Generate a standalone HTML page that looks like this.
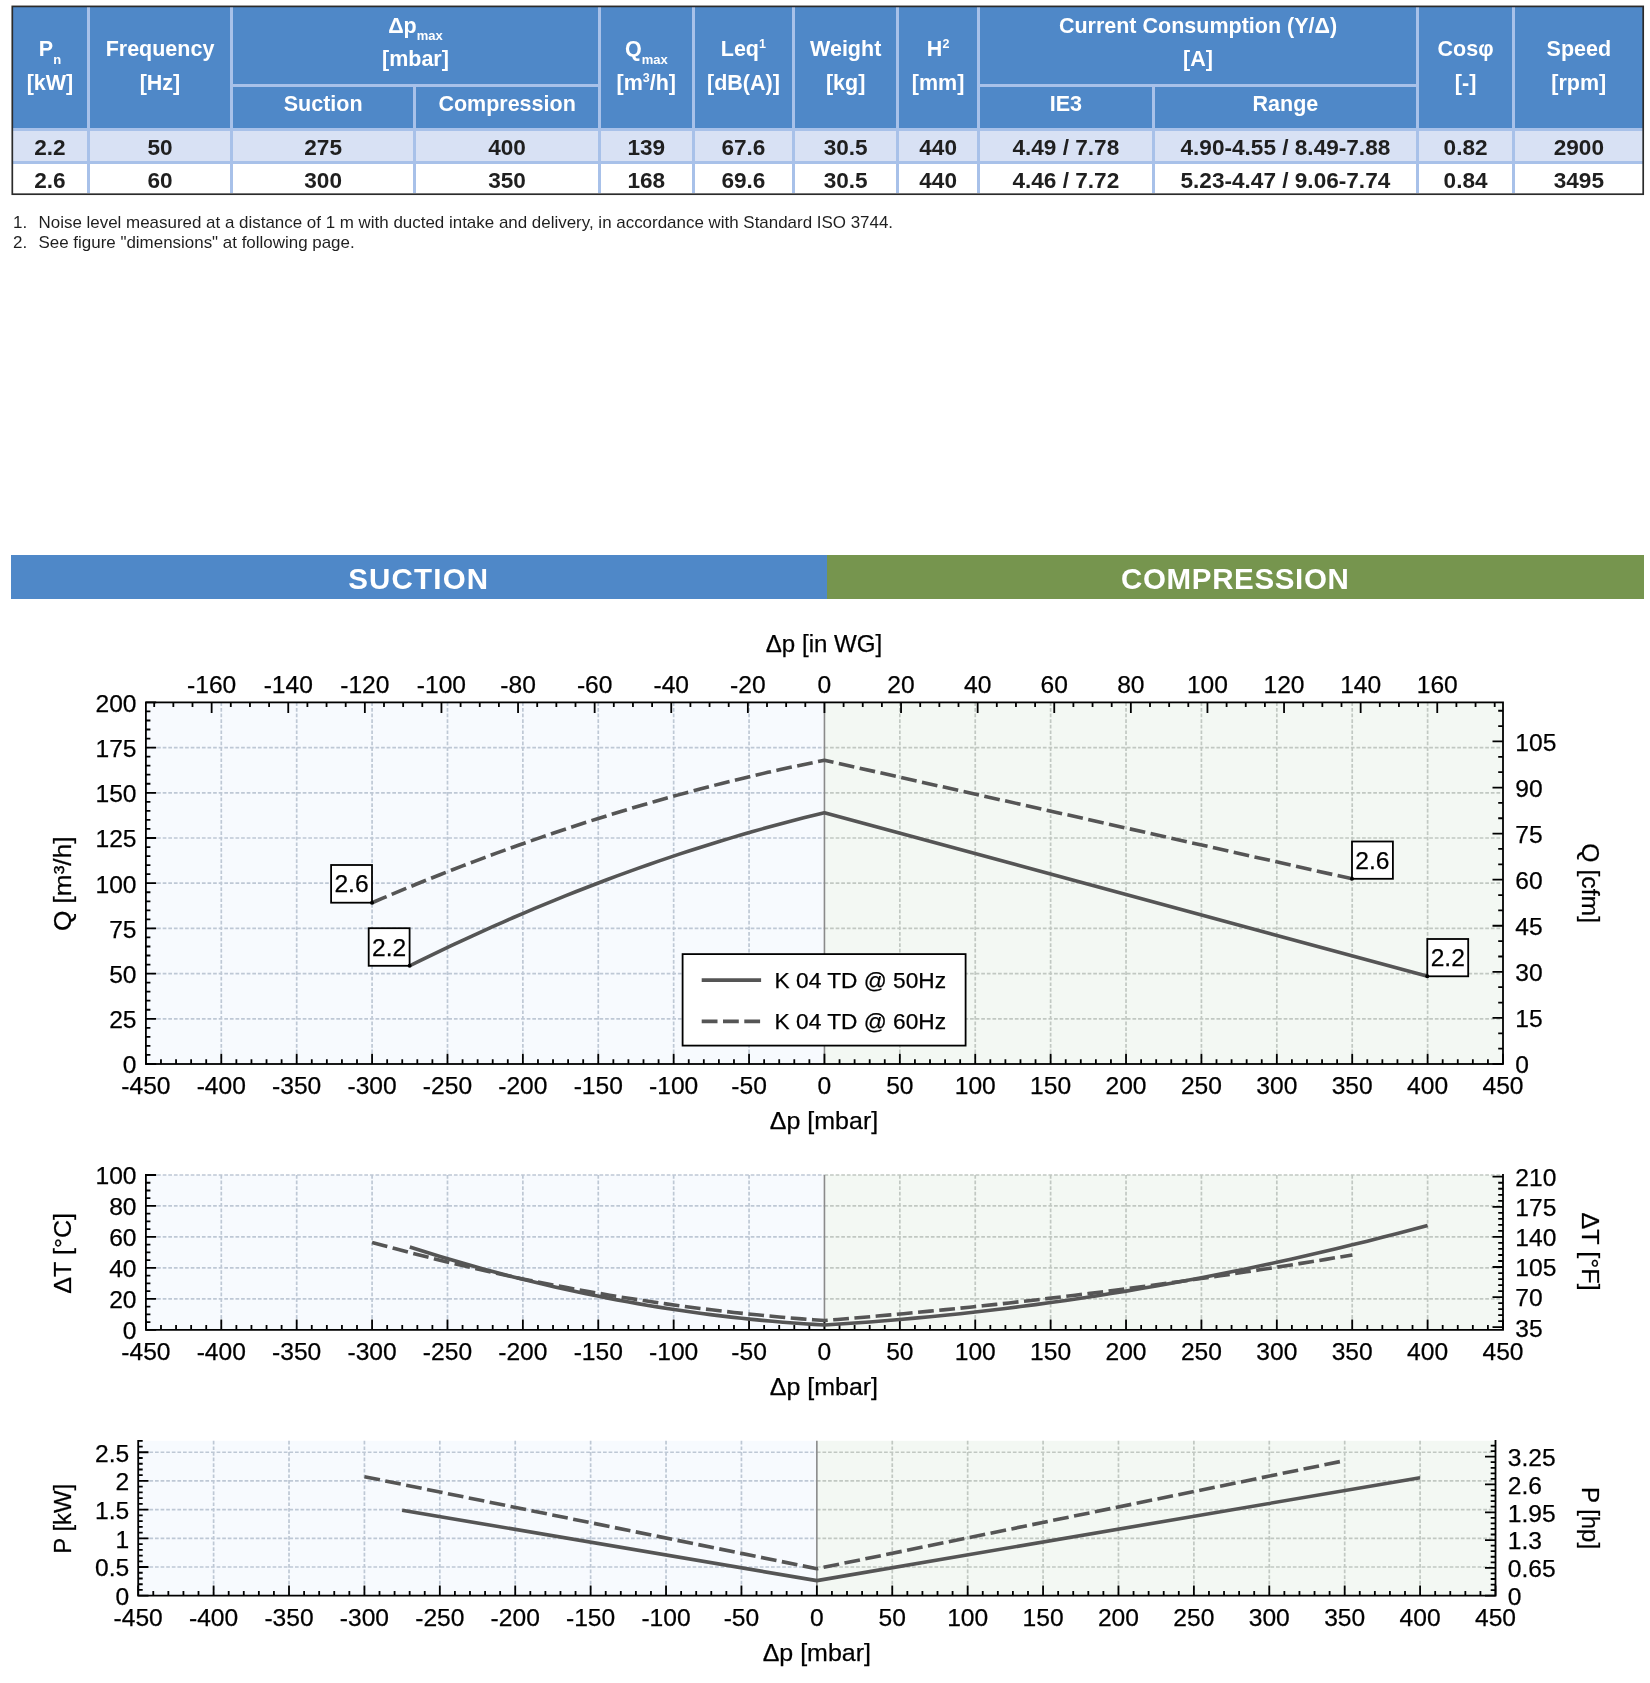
<!DOCTYPE html>
<html lang="en">
<head>
<meta charset="utf-8">
<title>K 04 TD - technical data</title>
<style>
html,body{margin:0;padding:0;background:#fff;}
body{width:1650px;height:1683px;position:relative;overflow:hidden;font-family:"Liberation Sans", sans-serif;color:#1f1f1f;}
.abs{position:absolute;}
#tblwrap{will-change:transform;position:absolute;left:13px;top:7px;width:1629.5px;height:186px;background:#a8c1e9;overflow:hidden;}
#tbl{position:absolute;left:-3px;top:-3px;width:1635.5px;border-collapse:separate;border-spacing:3px;table-layout:fixed;font-weight:bold;}
#tbl th,#tbl td{padding:0;margin:0;text-align:center;vertical-align:middle;overflow:hidden;white-space:nowrap;}
#tbl th{background:#4f88c8;color:#fff;font-size:21.5px;line-height:33.6px;font-weight:bold;padding-bottom:1.6px;}
#tbl th.c{padding-bottom:4.2px;}
#tbl th.s{padding-bottom:7.4px;line-height:30px;}
#tbl td{font-size:22.6px;color:#1f1f1f;line-height:22px;}
#tbl tr.r1 td{padding-top:3.4px;}
#tbl tr.r2 td{padding-top:5px;}
#tbl tr.r1 td{background:#d8e1f4;}
#tbl tr.r2 td{background:#fff;}
#tbl sub{font-size:13px;vertical-align:baseline;position:relative;top:7.6px;line-height:0;}
#tbl sup{font-size:12.5px;vertical-align:baseline;position:relative;top:-8px;line-height:0;}
.sx{display:inline-block;transform-origin:50% 50%;}
.fn{will-change:transform;position:absolute;left:13px;font-size:16.95px;line-height:19.6px;white-space:nowrap;color:#1f1f1f;}
.fn .n{display:inline-block;width:25.5px;}
.fn .t{display:inline-block;transform-origin:0 50%;}
.bar{will-change:transform;position:absolute;top:555px;height:44px;color:#fff;font-weight:bold;font-size:29.5px;line-height:48.5px;text-align:center;letter-spacing:1.2px;}
svg text{font-family:"Liberation Sans", sans-serif;fill:#000;stroke:#000;stroke-width:.25px;}
</style>
</head>
<body>
<div id="tblwrap">
<table id="tbl">
<colgroup><col style="width:74px"><col style="width:140px"><col style="width:180.3px"><col style="width:181.6px"><col style="width:90.8px"><col style="width:97.4px"><col style="width:101.2px"><col style="width:77.7px"><col style="width:171.8px"><col style="width:261.3px"><col style="width:93.1px"><col style="width:127.3px"></colgroup>
<tr style="height:76.7px"><th rowspan="2">P<sub>n</sub><br>[kW]</th><th rowspan="2">Frequency<br>[Hz]</th><th colspan="2" class="c">&Delta;p<sub>max</sub><br>[mbar]</th><th rowspan="2">Q<sub>max</sub><br>[m<sup>3</sup>/h]</th><th rowspan="2">Leq<sup>1</sup><br>[dB(A)]</th><th rowspan="2">Weight<br>[kg]</th><th rowspan="2">H<sup>2</sup><br>[mm]</th><th colspan="2" class="c">Current Consumption (Y/&Delta;)<br>[A]</th><th rowspan="2">Cos&phi;<br>[-]</th><th rowspan="2">Speed<br>[rpm]</th></tr>
<tr style="height:41.3px"><th class="s">Suction</th><th class="s">Compression</th><th class="s">IE3</th><th class="s">Range</th></tr>
<tr class="r1" style="height:29.8px"><td>2.2</td><td>50</td><td>275</td><td>400</td><td>139</td><td>67.6</td><td>30.5</td><td>440</td><td>4.49 / 7.78</td><td>4.90-4.55 / 8.49-7.88</td><td>0.82</td><td>2900</td></tr>
<tr class="r2" style="height:29.2px"><td>2.6</td><td>60</td><td>300</td><td>350</td><td>168</td><td>69.6</td><td>30.5</td><td>440</td><td>4.46 / 7.72</td><td>5.23-4.47 / 9.06-7.74</td><td>0.84</td><td>3495</td></tr>
</table>
</div>
<div class="fn" style="top:212.9px"><span class="n">1.</span><span class="t" id="fn1">Noise level measured at a distance of 1 m with ducted intake and delivery, in accordance with Standard ISO 3744.</span></div>
<div class="fn" style="top:233px"><span class="n">2.</span><span class="t" id="fn2">See figure "dimensions" at following page.</span></div>
<div class="bar" style="left:11px;width:815.5px;background:#4f88c8;">SUCTION</div>
<div class="bar" style="left:826.5px;width:816.5px;background:#76954e;letter-spacing:0.65px;">COMPRESSION</div>
<svg class="abs" style="left:0;top:0;will-change:transform" width="1650" height="1683" viewBox="0 0 1650 1683">
<rect x="12.3" y="6.4" width="1630.9" height="187.8" fill="none" stroke="#2b2b2b" stroke-width="1.7"/>
<g id="chart1">
<rect x="145.9" y="702.4" width="678.55" height="361.6" fill="#f7fafe"/>
<rect x="824.45" y="702.4" width="678.55" height="361.6" fill="#f3f8f3"/>
<path d="M145.9 1018.8H824.45M145.9 973.6H824.45M145.9 928.4H824.45M145.9 883.2H824.45M145.9 838H824.45M145.9 792.8H824.45M145.9 747.6H824.45M221.29 702.4V1064M296.69 702.4V1064M372.08 702.4V1064M447.48 702.4V1064M522.87 702.4V1064M598.27 702.4V1064M673.66 702.4V1064M749.06 702.4V1064" stroke="#bec8d5" stroke-width="1.7" stroke-dasharray="3.7 1.9" fill="none"/>
<path d="M824.45 1018.8H1503M824.45 973.6H1503M824.45 928.4H1503M824.45 883.2H1503M824.45 838H1503M824.45 792.8H1503M824.45 747.6H1503M899.84 702.4V1064M975.24 702.4V1064M1050.63 702.4V1064M1126.03 702.4V1064M1201.42 702.4V1064M1276.82 702.4V1064M1352.21 702.4V1064M1427.61 702.4V1064" stroke="#c1c8c2" stroke-width="1.7" stroke-dasharray="3.7 1.9" fill="none"/>
<line x1="824.45" y1="702.4" x2="824.45" y2="1064" stroke="#8a8a8a" stroke-width="1.6"/>
<path d="M145.9 1064v-10.3M160.98 1064v-4.8M176.06 1064v-4.8M191.14 1064v-4.8M206.22 1064v-4.8M221.29 1064v-10.3M236.37 1064v-4.8M251.45 1064v-4.8M266.53 1064v-4.8M281.61 1064v-4.8M296.69 1064v-10.3M311.77 1064v-4.8M326.85 1064v-4.8M341.93 1064v-4.8M357 1064v-4.8M372.08 1064v-10.3M387.16 1064v-4.8M402.24 1064v-4.8M417.32 1064v-4.8M432.4 1064v-4.8M447.48 1064v-10.3M462.56 1064v-4.8M477.64 1064v-4.8M492.71 1064v-4.8M507.79 1064v-4.8M522.87 1064v-10.3M537.95 1064v-4.8M553.03 1064v-4.8M568.11 1064v-4.8M583.19 1064v-4.8M598.27 1064v-10.3M613.35 1064v-4.8M628.42 1064v-4.8M643.5 1064v-4.8M658.58 1064v-4.8M673.66 1064v-10.3M688.74 1064v-4.8M703.82 1064v-4.8M718.9 1064v-4.8M733.98 1064v-4.8M749.06 1064v-10.3M764.13 1064v-4.8M779.21 1064v-4.8M794.29 1064v-4.8M809.37 1064v-4.8M824.45 1064v-10.3M839.53 1064v-4.8M854.61 1064v-4.8M869.69 1064v-4.8M884.77 1064v-4.8M899.84 1064v-10.3M914.92 1064v-4.8M930 1064v-4.8M945.08 1064v-4.8M960.16 1064v-4.8M975.24 1064v-10.3M990.32 1064v-4.8M1005.4 1064v-4.8M1020.48 1064v-4.8M1035.55 1064v-4.8M1050.63 1064v-10.3M1065.71 1064v-4.8M1080.79 1064v-4.8M1095.87 1064v-4.8M1110.95 1064v-4.8M1126.03 1064v-10.3M1141.11 1064v-4.8M1156.19 1064v-4.8M1171.26 1064v-4.8M1186.34 1064v-4.8M1201.42 1064v-10.3M1216.5 1064v-4.8M1231.58 1064v-4.8M1246.66 1064v-4.8M1261.74 1064v-4.8M1276.82 1064v-10.3M1291.9 1064v-4.8M1306.97 1064v-4.8M1322.05 1064v-4.8M1337.13 1064v-4.8M1352.21 1064v-10.3M1367.29 1064v-4.8M1382.37 1064v-4.8M1397.45 1064v-4.8M1412.53 1064v-4.8M1427.61 1064v-10.3M1442.68 1064v-4.8M1457.76 1064v-4.8M1472.84 1064v-4.8M1487.92 1064v-4.8M1503 1064v-10.3M145.9 1064h10.3M145.9 1054.96h4.5M145.9 1045.92h4.5M145.9 1036.88h4.5M145.9 1027.84h4.5M145.9 1018.8h10.3M145.9 1009.76h4.5M145.9 1000.72h4.5M145.9 991.68h4.5M145.9 982.64h4.5M145.9 973.6h10.3M145.9 964.56h4.5M145.9 955.52h4.5M145.9 946.48h4.5M145.9 937.44h4.5M145.9 928.4h10.3M145.9 919.36h4.5M145.9 910.32h4.5M145.9 901.28h4.5M145.9 892.24h4.5M145.9 883.2h10.3M145.9 874.16h4.5M145.9 865.12h4.5M145.9 856.08h4.5M145.9 847.04h4.5M145.9 838h10.3M145.9 828.96h4.5M145.9 819.92h4.5M145.9 810.88h4.5M145.9 801.84h4.5M145.9 792.8h10.3M145.9 783.76h4.5M145.9 774.72h4.5M145.9 765.68h4.5M145.9 756.64h4.5M145.9 747.6h10.3M145.9 738.56h4.5M145.9 729.52h4.5M145.9 720.48h4.5M145.9 711.44h4.5M145.9 702.4h10.3M1503 1064h-10.5M1503 1048.64h-4.8M1503 1033.28h-4.8M1503 1017.92h-10.5M1503 1002.56h-4.8M1503 987.21h-4.8M1503 971.85h-10.5M1503 956.49h-4.8M1503 941.13h-4.8M1503 925.77h-10.5M1503 910.41h-4.8M1503 895.05h-4.8M1503 879.69h-10.5M1503 864.33h-4.8M1503 848.97h-4.8M1503 833.62h-10.5M1503 818.26h-4.8M1503 802.9h-4.8M1503 787.54h-10.5M1503 772.18h-4.8M1503 756.82h-4.8M1503 741.46h-10.5M1503 726.1h-4.8M1503 710.74h-4.8M154.2 702.4v4.5M173.35 702.4v4.5M192.5 702.4v4.5M211.65 702.4v10.5M230.8 702.4v4.5M249.95 702.4v4.5M269.1 702.4v4.5M288.25 702.4v10.5M307.4 702.4v4.5M326.55 702.4v4.5M345.7 702.4v4.5M364.85 702.4v10.5M384 702.4v4.5M403.15 702.4v4.5M422.3 702.4v4.5M441.45 702.4v10.5M460.6 702.4v4.5M479.75 702.4v4.5M498.9 702.4v4.5M518.05 702.4v10.5M537.2 702.4v4.5M556.35 702.4v4.5M575.5 702.4v4.5M594.65 702.4v10.5M613.8 702.4v4.5M632.95 702.4v4.5M652.1 702.4v4.5M671.25 702.4v10.5M690.4 702.4v4.5M709.55 702.4v4.5M728.7 702.4v4.5M747.85 702.4v10.5M767 702.4v4.5M786.15 702.4v4.5M805.3 702.4v4.5M824.45 702.4v10.5M843.6 702.4v4.5M862.75 702.4v4.5M881.9 702.4v4.5M901.05 702.4v10.5M920.2 702.4v4.5M939.35 702.4v4.5M958.5 702.4v4.5M977.65 702.4v10.5M996.8 702.4v4.5M1015.95 702.4v4.5M1035.1 702.4v4.5M1054.25 702.4v10.5M1073.4 702.4v4.5M1092.55 702.4v4.5M1111.7 702.4v4.5M1130.85 702.4v10.5M1150 702.4v4.5M1169.15 702.4v4.5M1188.3 702.4v4.5M1207.45 702.4v10.5M1226.6 702.4v4.5M1245.75 702.4v4.5M1264.9 702.4v4.5M1284.05 702.4v10.5M1303.2 702.4v4.5M1322.35 702.4v4.5M1341.5 702.4v4.5M1360.65 702.4v10.5M1379.8 702.4v4.5M1398.95 702.4v4.5M1418.1 702.4v4.5M1437.25 702.4v10.5M1456.4 702.4v4.5M1475.55 702.4v4.5M1494.7 702.4v4.5" stroke="#000" stroke-width="1.8" fill="none"/>
<rect x="145.9" y="702.4" width="1357.1" height="361.6" fill="none" stroke="#000" stroke-width="1.8"/>
<path d="M409.78 965.76L420.15 960.64L430.51 955.58L440.88 950.59L451.25 945.67L461.61 940.81L471.98 936.02L482.35 931.3L492.71 926.64L503.08 922.05L513.45 917.52L523.81 913.06L534.18 908.67L544.55 904.35L554.91 900.09L565.28 895.89L575.65 891.77L586.02 887.71L596.38 883.72L606.75 879.79L617.12 875.93L627.48 872.14L637.85 868.41L648.22 864.75L658.58 861.15L668.95 857.63L679.32 854.16L689.68 850.77L700.05 847.44L710.42 844.18L720.78 840.98L731.15 837.86L741.52 834.79L751.88 831.8L762.25 828.87L772.62 826L782.98 823.21L793.35 820.48L803.72 817.82L814.08 815.22L824.45 812.69L1427.61 976.31" fill="none" stroke="#555555" stroke-width="3.6" stroke-linejoin="round"/>
<path d="M372.08 902.73L383.39 897.9L394.7 893.13L406.01 888.43L417.32 883.79L428.63 879.22L439.94 874.72L451.25 870.28L462.56 865.9L473.87 861.59L485.17 857.35L496.48 853.17L507.79 849.05L519.1 845L530.41 841.02L541.72 837.1L553.03 833.24L564.34 829.45L575.65 825.73L586.96 822.07L598.27 818.47L609.58 814.95L620.88 811.48L632.19 808.08L643.5 804.75L654.81 801.48L666.12 798.28L677.43 795.14L688.74 792.06L700.05 789.05L711.36 786.11L722.67 783.23L733.98 780.42L745.29 777.67L756.59 774.99L767.9 772.37L779.21 769.82L790.52 767.33L801.83 764.91L813.14 762.55L824.45 760.26L1352.21 878.86" fill="none" stroke="#555555" stroke-width="3.6" stroke-dasharray="15.8 5.5" stroke-linejoin="round"/>
<text x="145.9" y="1094" font-size="24.6" text-anchor="middle">-450</text>
<text x="221.29" y="1094" font-size="24.6" text-anchor="middle">-400</text>
<text x="296.69" y="1094" font-size="24.6" text-anchor="middle">-350</text>
<text x="372.08" y="1094" font-size="24.6" text-anchor="middle">-300</text>
<text x="447.48" y="1094" font-size="24.6" text-anchor="middle">-250</text>
<text x="522.87" y="1094" font-size="24.6" text-anchor="middle">-200</text>
<text x="598.27" y="1094" font-size="24.6" text-anchor="middle">-150</text>
<text x="673.66" y="1094" font-size="24.6" text-anchor="middle">-100</text>
<text x="749.06" y="1094" font-size="24.6" text-anchor="middle">-50</text>
<text x="824.45" y="1094" font-size="24.6" text-anchor="middle">0</text>
<text x="899.84" y="1094" font-size="24.6" text-anchor="middle">50</text>
<text x="975.24" y="1094" font-size="24.6" text-anchor="middle">100</text>
<text x="1050.63" y="1094" font-size="24.6" text-anchor="middle">150</text>
<text x="1126.03" y="1094" font-size="24.6" text-anchor="middle">200</text>
<text x="1201.42" y="1094" font-size="24.6" text-anchor="middle">250</text>
<text x="1276.82" y="1094" font-size="24.6" text-anchor="middle">300</text>
<text x="1352.21" y="1094" font-size="24.6" text-anchor="middle">350</text>
<text x="1427.61" y="1094" font-size="24.6" text-anchor="middle">400</text>
<text x="1503" y="1094" font-size="24.6" text-anchor="middle">450</text>
<text x="136.5" y="1073.3" font-size="24.6" text-anchor="end">0</text>
<text x="136.5" y="1028.1" font-size="24.6" text-anchor="end">25</text>
<text x="136.5" y="982.9" font-size="24.6" text-anchor="end">50</text>
<text x="136.5" y="937.7" font-size="24.6" text-anchor="end">75</text>
<text x="136.5" y="892.5" font-size="24.6" text-anchor="end">100</text>
<text x="136.5" y="847.3" font-size="24.6" text-anchor="end">125</text>
<text x="136.5" y="802.1" font-size="24.6" text-anchor="end">150</text>
<text x="136.5" y="756.9" font-size="24.6" text-anchor="end">175</text>
<text x="136.5" y="711.7" font-size="24.6" text-anchor="end">200</text>
<text x="1515.3" y="1073.3" font-size="24.6">0</text>
<text x="1515.3" y="1027.22" font-size="24.6">15</text>
<text x="1515.3" y="981.15" font-size="24.6">30</text>
<text x="1515.3" y="935.07" font-size="24.6">45</text>
<text x="1515.3" y="888.99" font-size="24.6">60</text>
<text x="1515.3" y="842.92" font-size="24.6">75</text>
<text x="1515.3" y="796.84" font-size="24.6">90</text>
<text x="1515.3" y="750.76" font-size="24.6">105</text>
<text x="211.65" y="693" font-size="24.6" text-anchor="middle">-160</text>
<text x="288.25" y="693" font-size="24.6" text-anchor="middle">-140</text>
<text x="364.85" y="693" font-size="24.6" text-anchor="middle">-120</text>
<text x="441.45" y="693" font-size="24.6" text-anchor="middle">-100</text>
<text x="518.05" y="693" font-size="24.6" text-anchor="middle">-80</text>
<text x="594.65" y="693" font-size="24.6" text-anchor="middle">-60</text>
<text x="671.25" y="693" font-size="24.6" text-anchor="middle">-40</text>
<text x="747.85" y="693" font-size="24.6" text-anchor="middle">-20</text>
<text x="824.45" y="693" font-size="24.6" text-anchor="middle">0</text>
<text x="901.05" y="693" font-size="24.6" text-anchor="middle">20</text>
<text x="977.65" y="693" font-size="24.6" text-anchor="middle">40</text>
<text x="1054.25" y="693" font-size="24.6" text-anchor="middle">60</text>
<text x="1130.85" y="693" font-size="24.6" text-anchor="middle">80</text>
<text x="1207.45" y="693" font-size="24.6" text-anchor="middle">100</text>
<text x="1284.05" y="693" font-size="24.6" text-anchor="middle">120</text>
<text x="1360.65" y="693" font-size="24.6" text-anchor="middle">140</text>
<text x="1437.25" y="693" font-size="24.6" text-anchor="middle">160</text>
<text x="824" y="652.4" font-size="24.6" text-anchor="middle" textLength="116.5" lengthAdjust="spacingAndGlyphs">&#916;p [in WG]</text>
<text x="824" y="1129.4" font-size="24.6" text-anchor="middle" textLength="108.3" lengthAdjust="spacingAndGlyphs">&#916;p [mbar]</text>
<text transform="translate(71.3 883.8) rotate(-90)" font-size="24.6" text-anchor="middle" textLength="94.6" lengthAdjust="spacingAndGlyphs">Q [m&#179;/h]</text>
<text transform="translate(1581.7 883.2) rotate(90)" font-size="24.6" text-anchor="middle" textLength="79.8" lengthAdjust="spacingAndGlyphs">Q [cfm]</text>
<rect x="331.1" y="865" width="40.9" height="37.7" fill="#fff" stroke="#000" stroke-width="1.8"/>
<text x="351.55" y="892.45" font-size="24.6" text-anchor="middle">2.6</text>
<circle cx="372" cy="902.7" r="2" fill="#000"/>
<rect x="368.7" y="928.2" width="40.9" height="37.6" fill="#fff" stroke="#000" stroke-width="1.8"/>
<text x="389.15" y="955.6" font-size="24.6" text-anchor="middle">2.2</text>
<circle cx="409.6" cy="965.8" r="2" fill="#000"/>
<rect x="1352" y="841.5" width="40.9" height="37.3" fill="#fff" stroke="#000" stroke-width="1.8"/>
<text x="1372.45" y="868.75" font-size="24.6" text-anchor="middle">2.6</text>
<circle cx="1352" cy="878.8" r="2" fill="#000"/>
<rect x="1427.3" y="939" width="40.9" height="37.3" fill="#fff" stroke="#000" stroke-width="1.8"/>
<text x="1447.75" y="966.25" font-size="24.6" text-anchor="middle">2.2</text>
<circle cx="1427.3" cy="976.3" r="2" fill="#000"/>
<rect x="682.6" y="954.1" width="283" height="91.5" fill="#fff" stroke="#000" stroke-width="1.8"/>
<line x1="701.7" y1="980.1" x2="761.1" y2="980.1" stroke="#555555" stroke-width="3.6"/>
<line x1="701.7" y1="1021.4" x2="761.1" y2="1021.4" stroke="#555555" stroke-width="3.6" stroke-dasharray="15.8 5.5"/>
<text x="774.6" y="988" font-size="22.6" id="lg1" textLength="171.5" lengthAdjust="spacingAndGlyphs">K 04 TD @ 50Hz</text>
<text x="774.6" y="1029.3" font-size="22.6" id="lg2" textLength="171.5" lengthAdjust="spacingAndGlyphs">K 04 TD @ 60Hz</text>
</g>
<g id="chart2">
<rect x="145.9" y="1175" width="678.55" height="154.8" fill="#f7fafe"/>
<rect x="824.45" y="1175" width="678.55" height="154.8" fill="#f3f8f3"/>
<path d="M145.9 1298.84H824.45M145.9 1267.88H824.45M145.9 1236.92H824.45M145.9 1205.96H824.45M145.9 1175H824.45M221.29 1175V1329.8M296.69 1175V1329.8M372.08 1175V1329.8M447.48 1175V1329.8M522.87 1175V1329.8M598.27 1175V1329.8M673.66 1175V1329.8M749.06 1175V1329.8" stroke="#bec8d5" stroke-width="1.7" stroke-dasharray="3.7 1.9" fill="none"/>
<path d="M824.45 1298.84H1503M824.45 1267.88H1503M824.45 1236.92H1503M824.45 1205.96H1503M824.45 1175H1503M899.84 1175V1329.8M975.24 1175V1329.8M1050.63 1175V1329.8M1126.03 1175V1329.8M1201.42 1175V1329.8M1276.82 1175V1329.8M1352.21 1175V1329.8M1427.61 1175V1329.8" stroke="#c1c8c2" stroke-width="1.7" stroke-dasharray="3.7 1.9" fill="none"/>
<line x1="824.45" y1="1175" x2="824.45" y2="1329.8" stroke="#8a8a8a" stroke-width="1.6"/>
<path d="M145.9 1329.8v-10.3M160.98 1329.8v-4.8M176.06 1329.8v-4.8M191.14 1329.8v-4.8M206.22 1329.8v-4.8M221.29 1329.8v-10.3M236.37 1329.8v-4.8M251.45 1329.8v-4.8M266.53 1329.8v-4.8M281.61 1329.8v-4.8M296.69 1329.8v-10.3M311.77 1329.8v-4.8M326.85 1329.8v-4.8M341.93 1329.8v-4.8M357 1329.8v-4.8M372.08 1329.8v-10.3M387.16 1329.8v-4.8M402.24 1329.8v-4.8M417.32 1329.8v-4.8M432.4 1329.8v-4.8M447.48 1329.8v-10.3M462.56 1329.8v-4.8M477.64 1329.8v-4.8M492.71 1329.8v-4.8M507.79 1329.8v-4.8M522.87 1329.8v-10.3M537.95 1329.8v-4.8M553.03 1329.8v-4.8M568.11 1329.8v-4.8M583.19 1329.8v-4.8M598.27 1329.8v-10.3M613.35 1329.8v-4.8M628.42 1329.8v-4.8M643.5 1329.8v-4.8M658.58 1329.8v-4.8M673.66 1329.8v-10.3M688.74 1329.8v-4.8M703.82 1329.8v-4.8M718.9 1329.8v-4.8M733.98 1329.8v-4.8M749.06 1329.8v-10.3M764.13 1329.8v-4.8M779.21 1329.8v-4.8M794.29 1329.8v-4.8M809.37 1329.8v-4.8M824.45 1329.8v-10.3M839.53 1329.8v-4.8M854.61 1329.8v-4.8M869.69 1329.8v-4.8M884.77 1329.8v-4.8M899.84 1329.8v-10.3M914.92 1329.8v-4.8M930 1329.8v-4.8M945.08 1329.8v-4.8M960.16 1329.8v-4.8M975.24 1329.8v-10.3M990.32 1329.8v-4.8M1005.4 1329.8v-4.8M1020.48 1329.8v-4.8M1035.55 1329.8v-4.8M1050.63 1329.8v-10.3M1065.71 1329.8v-4.8M1080.79 1329.8v-4.8M1095.87 1329.8v-4.8M1110.95 1329.8v-4.8M1126.03 1329.8v-10.3M1141.11 1329.8v-4.8M1156.19 1329.8v-4.8M1171.26 1329.8v-4.8M1186.34 1329.8v-4.8M1201.42 1329.8v-10.3M1216.5 1329.8v-4.8M1231.58 1329.8v-4.8M1246.66 1329.8v-4.8M1261.74 1329.8v-4.8M1276.82 1329.8v-10.3M1291.9 1329.8v-4.8M1306.97 1329.8v-4.8M1322.05 1329.8v-4.8M1337.13 1329.8v-4.8M1352.21 1329.8v-10.3M1367.29 1329.8v-4.8M1382.37 1329.8v-4.8M1397.45 1329.8v-4.8M1412.53 1329.8v-4.8M1427.61 1329.8v-10.3M1442.68 1329.8v-4.8M1457.76 1329.8v-4.8M1472.84 1329.8v-4.8M1487.92 1329.8v-4.8M1503 1329.8v-10.3M145.9 1329.8h10.3M145.9 1322.06h4.5M145.9 1314.32h4.5M145.9 1306.58h4.5M145.9 1298.84h10.3M145.9 1291.1h4.5M145.9 1283.36h4.5M145.9 1275.62h4.5M145.9 1267.88h10.3M145.9 1260.14h4.5M145.9 1252.4h4.5M145.9 1244.66h4.5M145.9 1236.92h10.3M145.9 1229.18h4.5M145.9 1221.44h4.5M145.9 1213.7h4.5M145.9 1205.96h10.3M145.9 1198.22h4.5M145.9 1190.48h4.5M145.9 1182.74h4.5M145.9 1175h10.3M1503 1327.22h-10.5M1503 1321.2h-4.8M1503 1315.18h-4.8M1503 1309.16h-4.8M1503 1303.14h-4.8M1503 1297.12h-10.5M1503 1291.1h-4.8M1503 1285.08h-4.8M1503 1279.06h-4.8M1503 1273.04h-4.8M1503 1267.02h-10.5M1503 1261h-4.8M1503 1254.98h-4.8M1503 1248.96h-4.8M1503 1242.94h-4.8M1503 1236.92h-10.5M1503 1230.9h-4.8M1503 1224.88h-4.8M1503 1218.86h-4.8M1503 1212.84h-4.8M1503 1206.82h-10.5M1503 1200.8h-4.8M1503 1194.78h-4.8M1503 1188.76h-4.8M1503 1182.74h-4.8M1503 1176.72h-10.5" stroke="#000" stroke-width="1.8" fill="none"/>
<path d="M145.9 1174.1V1329.8H1503V1174.1" fill="none" stroke="#000" stroke-width="1.8" stroke-linejoin="miter"/>
<path d="M409.78 1246.99L420.15 1250.29L430.51 1253.53L440.88 1256.69L451.25 1259.79L461.61 1262.81L471.98 1265.77L482.35 1268.65L492.71 1271.47L503.08 1274.22L513.45 1276.9L523.81 1279.51L534.18 1282.05L544.55 1284.52L554.91 1286.92L565.28 1289.25L575.65 1291.51L586.02 1293.71L596.38 1295.83L606.75 1297.88L617.12 1299.87L627.48 1301.78L637.85 1303.63L648.22 1305.41L658.58 1307.11L668.95 1308.75L679.32 1310.32L689.68 1311.82L700.05 1313.25L710.42 1314.61L720.78 1315.9L731.15 1317.13L741.52 1318.28L751.88 1319.36L762.25 1320.37L772.62 1321.32L782.98 1322.19L793.35 1323L803.72 1323.74L814.08 1324.4L824.45 1325L824.45 1325L839.53 1324.06L854.61 1323.04L869.69 1321.94L884.77 1320.76L899.84 1319.5L914.92 1318.16L930 1316.74L945.08 1315.25L960.16 1313.67L975.24 1312.01L990.32 1310.28L1005.4 1308.46L1020.48 1306.57L1035.55 1304.6L1050.63 1302.55L1065.71 1300.42L1080.79 1298.21L1095.87 1295.92L1110.95 1293.55L1126.03 1291.1L1141.11 1288.57L1156.19 1285.97L1171.26 1283.28L1186.34 1280.52L1201.42 1277.67L1216.5 1274.75L1231.58 1271.74L1246.66 1268.66L1261.74 1265.5L1276.82 1262.26L1291.9 1258.94L1306.97 1255.54L1322.05 1252.06L1337.13 1248.51L1352.21 1244.87L1367.29 1241.15L1382.37 1237.36L1397.45 1233.48L1412.53 1229.53L1427.61 1225.5" fill="none" stroke="#555555" stroke-width="3.6" stroke-linejoin="round"/>
<path d="M372.08 1242.45L383.39 1245.55L394.7 1248.59L406.01 1251.57L417.32 1254.49L428.63 1257.36L439.94 1260.16L451.25 1262.91L462.56 1265.59L473.87 1268.22L485.17 1270.79L496.48 1273.3L507.79 1275.75L519.1 1278.15L530.41 1280.48L541.72 1282.76L553.03 1284.97L564.34 1287.13L575.65 1289.23L586.96 1291.27L598.27 1293.25L609.58 1295.17L620.88 1297.04L632.19 1298.84L643.5 1300.59L654.81 1302.27L666.12 1303.9L677.43 1305.47L688.74 1306.98L700.05 1308.43L711.36 1309.82L722.67 1311.16L733.98 1312.43L745.29 1313.65L756.59 1314.81L767.9 1315.9L779.21 1316.94L790.52 1317.92L801.83 1318.85L813.14 1319.71L824.45 1320.51L824.45 1320.51L837.64 1319.45L850.84 1318.35L864.03 1317.23L877.23 1316.07L890.42 1314.89L903.61 1313.68L916.81 1312.43L930 1311.16L943.2 1309.86L956.39 1308.53L969.58 1307.17L982.78 1305.78L995.97 1304.36L1009.17 1302.92L1022.36 1301.44L1035.55 1299.93L1048.75 1298.4L1061.94 1296.83L1075.14 1295.24L1088.33 1293.61L1101.52 1291.96L1114.72 1290.27L1127.91 1288.56L1141.11 1286.82L1154.3 1285.05L1167.49 1283.25L1180.69 1281.42L1193.88 1279.56L1207.08 1277.67L1220.27 1275.75L1233.46 1273.8L1246.66 1271.83L1259.85 1269.82L1273.05 1267.79L1286.24 1265.72L1299.43 1263.63L1312.63 1261.5L1325.82 1259.35L1339.02 1257.17L1352.21 1254.95" fill="none" stroke="#555555" stroke-width="3.6" stroke-dasharray="15.8 5.5" stroke-linejoin="round"/>
<text x="145.9" y="1360" font-size="24.6" text-anchor="middle">-450</text>
<text x="221.29" y="1360" font-size="24.6" text-anchor="middle">-400</text>
<text x="296.69" y="1360" font-size="24.6" text-anchor="middle">-350</text>
<text x="372.08" y="1360" font-size="24.6" text-anchor="middle">-300</text>
<text x="447.48" y="1360" font-size="24.6" text-anchor="middle">-250</text>
<text x="522.87" y="1360" font-size="24.6" text-anchor="middle">-200</text>
<text x="598.27" y="1360" font-size="24.6" text-anchor="middle">-150</text>
<text x="673.66" y="1360" font-size="24.6" text-anchor="middle">-100</text>
<text x="749.06" y="1360" font-size="24.6" text-anchor="middle">-50</text>
<text x="824.45" y="1360" font-size="24.6" text-anchor="middle">0</text>
<text x="899.84" y="1360" font-size="24.6" text-anchor="middle">50</text>
<text x="975.24" y="1360" font-size="24.6" text-anchor="middle">100</text>
<text x="1050.63" y="1360" font-size="24.6" text-anchor="middle">150</text>
<text x="1126.03" y="1360" font-size="24.6" text-anchor="middle">200</text>
<text x="1201.42" y="1360" font-size="24.6" text-anchor="middle">250</text>
<text x="1276.82" y="1360" font-size="24.6" text-anchor="middle">300</text>
<text x="1352.21" y="1360" font-size="24.6" text-anchor="middle">350</text>
<text x="1427.61" y="1360" font-size="24.6" text-anchor="middle">400</text>
<text x="1503" y="1360" font-size="24.6" text-anchor="middle">450</text>
<text x="136.5" y="1339.1" font-size="24.6" text-anchor="end">0</text>
<text x="136.5" y="1308.14" font-size="24.6" text-anchor="end">20</text>
<text x="136.5" y="1277.18" font-size="24.6" text-anchor="end">40</text>
<text x="136.5" y="1246.22" font-size="24.6" text-anchor="end">60</text>
<text x="136.5" y="1215.26" font-size="24.6" text-anchor="end">80</text>
<text x="136.5" y="1184.3" font-size="24.6" text-anchor="end">100</text>
<text x="1515.3" y="1336.52" font-size="24.6">35</text>
<text x="1515.3" y="1306.42" font-size="24.6">70</text>
<text x="1515.3" y="1276.32" font-size="24.6">105</text>
<text x="1515.3" y="1246.22" font-size="24.6">140</text>
<text x="1515.3" y="1216.12" font-size="24.6">175</text>
<text x="1515.3" y="1186.02" font-size="24.6">210</text>
<text x="823.9" y="1395.2" font-size="24.6" text-anchor="middle" textLength="108.3" lengthAdjust="spacingAndGlyphs">&#916;p [mbar]</text>
<text transform="translate(70.9 1253.3) rotate(-90)" font-size="24.6" text-anchor="middle" textLength="80.8" lengthAdjust="spacingAndGlyphs">&#916;T [&#176;C]</text>
<text transform="translate(1582.3 1251.6) rotate(90)" font-size="24.6" text-anchor="middle" textLength="78.3" lengthAdjust="spacingAndGlyphs">&#916;T [&#176;F]</text>
</g>
<g id="chart3">
<rect x="138.2" y="1440.8" width="678.65" height="154.9" fill="#f7fafe"/>
<rect x="816.85" y="1440.8" width="678.65" height="154.9" fill="#f3f8f3"/>
<path d="M138.2 1567.01H816.85M138.2 1538.33H816.85M138.2 1509.64H816.85M138.2 1480.96H816.85M138.2 1452.27H816.85M213.61 1440.8V1595.7M289.01 1440.8V1595.7M364.42 1440.8V1595.7M439.82 1440.8V1595.7M515.23 1440.8V1595.7M590.63 1440.8V1595.7M666.04 1440.8V1595.7M741.44 1440.8V1595.7" stroke="#bec8d5" stroke-width="1.7" stroke-dasharray="3.7 1.9" fill="none"/>
<path d="M816.85 1567.01H1495.5M816.85 1538.33H1495.5M816.85 1509.64H1495.5M816.85 1480.96H1495.5M816.85 1452.27H1495.5M892.26 1440.8V1595.7M967.66 1440.8V1595.7M1043.07 1440.8V1595.7M1118.47 1440.8V1595.7M1193.88 1440.8V1595.7M1269.28 1440.8V1595.7M1344.69 1440.8V1595.7M1420.09 1440.8V1595.7" stroke="#c1c8c2" stroke-width="1.7" stroke-dasharray="3.7 1.9" fill="none"/>
<line x1="816.85" y1="1440.8" x2="816.85" y2="1595.7" stroke="#8a8a8a" stroke-width="1.6"/>
<path d="M138.2 1595.7v-10.3M153.28 1595.7v-4.8M168.36 1595.7v-4.8M183.44 1595.7v-4.8M198.52 1595.7v-4.8M213.61 1595.7v-10.3M228.69 1595.7v-4.8M243.77 1595.7v-4.8M258.85 1595.7v-4.8M273.93 1595.7v-4.8M289.01 1595.7v-10.3M304.09 1595.7v-4.8M319.17 1595.7v-4.8M334.25 1595.7v-4.8M349.34 1595.7v-4.8M364.42 1595.7v-10.3M379.5 1595.7v-4.8M394.58 1595.7v-4.8M409.66 1595.7v-4.8M424.74 1595.7v-4.8M439.82 1595.7v-10.3M454.9 1595.7v-4.8M469.98 1595.7v-4.8M485.07 1595.7v-4.8M500.15 1595.7v-4.8M515.23 1595.7v-10.3M530.31 1595.7v-4.8M545.39 1595.7v-4.8M560.47 1595.7v-4.8M575.55 1595.7v-4.8M590.63 1595.7v-10.3M605.71 1595.7v-4.8M620.8 1595.7v-4.8M635.88 1595.7v-4.8M650.96 1595.7v-4.8M666.04 1595.7v-10.3M681.12 1595.7v-4.8M696.2 1595.7v-4.8M711.28 1595.7v-4.8M726.36 1595.7v-4.8M741.44 1595.7v-10.3M756.53 1595.7v-4.8M771.61 1595.7v-4.8M786.69 1595.7v-4.8M801.77 1595.7v-4.8M816.85 1595.7v-10.3M831.93 1595.7v-4.8M847.01 1595.7v-4.8M862.09 1595.7v-4.8M877.17 1595.7v-4.8M892.26 1595.7v-10.3M907.34 1595.7v-4.8M922.42 1595.7v-4.8M937.5 1595.7v-4.8M952.58 1595.7v-4.8M967.66 1595.7v-10.3M982.74 1595.7v-4.8M997.82 1595.7v-4.8M1012.9 1595.7v-4.8M1027.99 1595.7v-4.8M1043.07 1595.7v-10.3M1058.15 1595.7v-4.8M1073.23 1595.7v-4.8M1088.31 1595.7v-4.8M1103.39 1595.7v-4.8M1118.47 1595.7v-10.3M1133.55 1595.7v-4.8M1148.63 1595.7v-4.8M1163.72 1595.7v-4.8M1178.8 1595.7v-4.8M1193.88 1595.7v-10.3M1208.96 1595.7v-4.8M1224.04 1595.7v-4.8M1239.12 1595.7v-4.8M1254.2 1595.7v-4.8M1269.28 1595.7v-10.3M1284.36 1595.7v-4.8M1299.45 1595.7v-4.8M1314.53 1595.7v-4.8M1329.61 1595.7v-4.8M1344.69 1595.7v-10.3M1359.77 1595.7v-4.8M1374.85 1595.7v-4.8M1389.93 1595.7v-4.8M1405.01 1595.7v-4.8M1420.09 1595.7v-10.3M1435.18 1595.7v-4.8M1450.26 1595.7v-4.8M1465.34 1595.7v-4.8M1480.42 1595.7v-4.8M1495.5 1595.7v-10.3M138.2 1595.7h10.3M138.2 1589.96h4.5M138.2 1584.23h4.5M138.2 1578.49h4.5M138.2 1572.75h4.5M138.2 1567.01h10.3M138.2 1561.28h4.5M138.2 1555.54h4.5M138.2 1549.8h4.5M138.2 1544.07h4.5M138.2 1538.33h10.3M138.2 1532.59h4.5M138.2 1526.86h4.5M138.2 1521.12h4.5M138.2 1515.38h4.5M138.2 1509.64h10.3M138.2 1503.91h4.5M138.2 1498.17h4.5M138.2 1492.43h4.5M138.2 1486.7h4.5M138.2 1480.96h10.3M138.2 1475.22h4.5M138.2 1469.49h4.5M138.2 1463.75h4.5M138.2 1458.01h4.5M138.2 1452.27h10.3M138.2 1446.54h4.5M138.2 1440.8h4.5M1495.5 1595.7h-10.5M1495.5 1590.14h-4.8M1495.5 1584.58h-4.8M1495.5 1579.02h-4.8M1495.5 1573.45h-4.8M1495.5 1567.89h-10.5M1495.5 1562.33h-4.8M1495.5 1556.77h-4.8M1495.5 1551.21h-4.8M1495.5 1545.65h-4.8M1495.5 1540.08h-10.5M1495.5 1534.52h-4.8M1495.5 1528.96h-4.8M1495.5 1523.4h-4.8M1495.5 1517.84h-4.8M1495.5 1512.28h-10.5M1495.5 1506.72h-4.8M1495.5 1501.15h-4.8M1495.5 1495.59h-4.8M1495.5 1490.03h-4.8M1495.5 1484.47h-10.5M1495.5 1478.91h-4.8M1495.5 1473.35h-4.8M1495.5 1467.78h-4.8M1495.5 1462.22h-4.8M1495.5 1456.66h-10.5M1495.5 1451.1h-4.8M1495.5 1445.54h-4.8" stroke="#000" stroke-width="1.8" fill="none"/>
<path d="M138.2 1439.9V1595.7H1495.5V1439.9" fill="none" stroke="#000" stroke-width="1.8" stroke-linejoin="miter"/>
<path d="M402.12 1510.22L816.85 1580.61L1420.09 1477.69" fill="none" stroke="#555555" stroke-width="3.6" stroke-linejoin="round"/>
<path d="M364.42 1476.66L816.85 1568.74L1344.69 1460.65" fill="none" stroke="#555555" stroke-width="3.6" stroke-dasharray="15.8 5.5" stroke-linejoin="round"/>
<text x="138.2" y="1626" font-size="24.6" text-anchor="middle">-450</text>
<text x="213.61" y="1626" font-size="24.6" text-anchor="middle">-400</text>
<text x="289.01" y="1626" font-size="24.6" text-anchor="middle">-350</text>
<text x="364.42" y="1626" font-size="24.6" text-anchor="middle">-300</text>
<text x="439.82" y="1626" font-size="24.6" text-anchor="middle">-250</text>
<text x="515.23" y="1626" font-size="24.6" text-anchor="middle">-200</text>
<text x="590.63" y="1626" font-size="24.6" text-anchor="middle">-150</text>
<text x="666.04" y="1626" font-size="24.6" text-anchor="middle">-100</text>
<text x="741.44" y="1626" font-size="24.6" text-anchor="middle">-50</text>
<text x="816.85" y="1626" font-size="24.6" text-anchor="middle">0</text>
<text x="892.26" y="1626" font-size="24.6" text-anchor="middle">50</text>
<text x="967.66" y="1626" font-size="24.6" text-anchor="middle">100</text>
<text x="1043.07" y="1626" font-size="24.6" text-anchor="middle">150</text>
<text x="1118.47" y="1626" font-size="24.6" text-anchor="middle">200</text>
<text x="1193.88" y="1626" font-size="24.6" text-anchor="middle">250</text>
<text x="1269.28" y="1626" font-size="24.6" text-anchor="middle">300</text>
<text x="1344.69" y="1626" font-size="24.6" text-anchor="middle">350</text>
<text x="1420.09" y="1626" font-size="24.6" text-anchor="middle">400</text>
<text x="1495.5" y="1626" font-size="24.6" text-anchor="middle">450</text>
<text x="129.2" y="1605" font-size="24.6" text-anchor="end">0</text>
<text x="129.2" y="1576.31" font-size="24.6" text-anchor="end">0.5</text>
<text x="129.2" y="1547.63" font-size="24.6" text-anchor="end">1</text>
<text x="129.2" y="1518.94" font-size="24.6" text-anchor="end">1.5</text>
<text x="129.2" y="1490.26" font-size="24.6" text-anchor="end">2</text>
<text x="129.2" y="1461.57" font-size="24.6" text-anchor="end">2.5</text>
<text x="1507.8" y="1605" font-size="24.6">0</text>
<text x="1507.8" y="1577.19" font-size="24.6">0.65</text>
<text x="1507.8" y="1549.38" font-size="24.6">1.3</text>
<text x="1507.8" y="1521.58" font-size="24.6">1.95</text>
<text x="1507.8" y="1493.77" font-size="24.6">2.6</text>
<text x="1507.8" y="1465.96" font-size="24.6">3.25</text>
<text x="816.8" y="1661" font-size="24.6" text-anchor="middle" textLength="108.3" lengthAdjust="spacingAndGlyphs">&#916;p [mbar]</text>
<text transform="translate(70.9 1518.8) rotate(-90)" font-size="24.6" text-anchor="middle" textLength="69.7" lengthAdjust="spacingAndGlyphs">P [kW]</text>
<text transform="translate(1582.4 1518) rotate(90)" font-size="24.6" text-anchor="middle" textLength="62.1" lengthAdjust="spacingAndGlyphs">P [hp]</text>
</g>
</svg>
</body>
</html>
